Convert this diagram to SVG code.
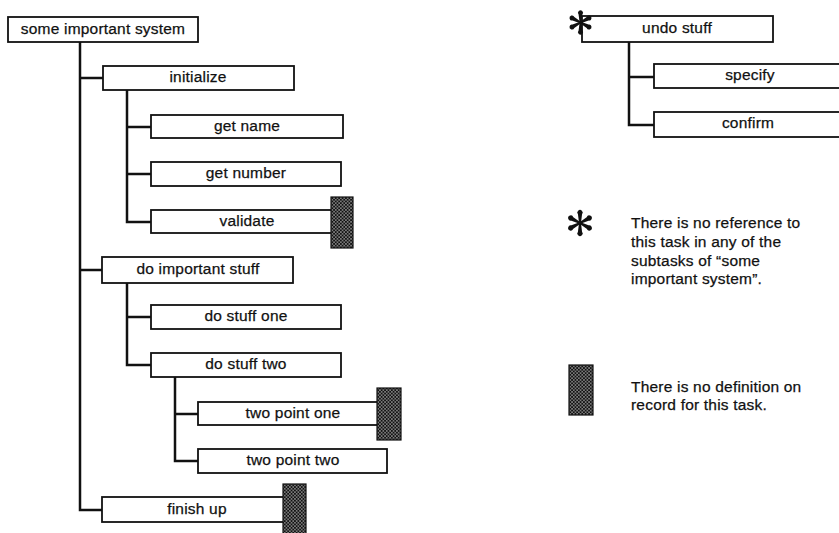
<svg xmlns="http://www.w3.org/2000/svg" width="839" height="533" viewBox="0 0 839 533">
  <defs>
    <style>
      .box { fill: #ffffff; stroke: #111111; stroke-width: 1.8; }
      .wire { fill: none; stroke: #111111; stroke-width: 2.5; stroke-linecap: square; }
      .lbl { font-family: "Liberation Sans", Arial, sans-serif; font-size: 15.5px; letter-spacing: 0.2px; fill: #111111; stroke: #111111; stroke-width: 0.25; text-anchor: middle; }
      .note { font-family: "Liberation Sans", Arial, sans-serif; font-size: 15.5px; letter-spacing: 0.2px; fill: #111111; stroke: #111111; stroke-width: 0.25; }
      .undef { fill: url(#halftone); stroke: #111111; stroke-width: 1.2; }
    </style>
    <!-- halftone screen used for tasks without a definition -->
    <pattern id="halftone" width="3.4" height="3.4" patternUnits="userSpaceOnUse">
      <rect width="3.4" height="3.4" fill="#111111"/>
      <circle cx="0.85" cy="0.85" r="0.7" fill="#ffffff"/>
      <circle cx="2.55" cy="2.55" r="0.7" fill="#ffffff"/>
    </pattern>
    <!-- one teardrop arm of the asterisk, pointing up -->
    <path id="arm" d="M -0.9 0 L -1.9 -8 A 2.5 2.5 0 1 1 1.9 -8 L 0.9 0 Z" fill="#111111"/>
    <g id="asterisk">
      <use href="#arm"/>
      <use href="#arm" transform="rotate(62)"/>
      <use href="#arm" transform="rotate(118)"/>
      <use href="#arm" transform="rotate(180)"/>
      <use href="#arm" transform="rotate(242)"/>
      <use href="#arm" transform="rotate(298)"/>
      <circle r="1.6" fill="#111111"/>
    </g>
  </defs>

  <rect width="839" height="533" fill="#ffffff"/>

  <!-- tree connectors -->
  <g id="connectors">
    <path class="wire" d="M80 42 V510 M80 78 H103 M80 270 H102 M80 510 H102"/>
    <path class="wire" d="M127 90 V222 M127 127 H151 M127 174 H151 M127 222 H151"/>
    <path class="wire" d="M127 283 V365 M127 317 H151 M127 365 H151"/>
    <path class="wire" d="M175 377 V461 M175 414 H198 M175 461 H198"/>
    <path class="wire" d="M629 42 V125 M629 77 H654 M629 125 H654"/>
  </g>

  <!-- left tree -->
  <g id="some-important-system">
    <rect class="box" x="8" y="17" width="190" height="25"/>
    <text class="lbl" x="103" y="34">some important system</text>
  </g>
  <g id="initialize">
    <rect class="box" x="103" y="66" width="191" height="24"/>
    <text class="lbl" x="198" y="82">initialize</text>
  </g>
  <g id="get-name">
    <rect class="box" x="151" y="115" width="192" height="23"/>
    <text class="lbl" x="247" y="131">get name</text>
  </g>
  <g id="get-number">
    <rect class="box" x="151" y="162" width="190" height="24"/>
    <text class="lbl" x="246" y="178">get number</text>
  </g>
  <g id="validate">
    <rect class="box" x="151" y="210" width="190" height="23"/>
    <text class="lbl" x="247" y="226">validate</text>
    <rect class="undef" x="331" y="197" width="22" height="51"/>
  </g>
  <g id="do-important-stuff">
    <rect class="box" x="102" y="257" width="191" height="26"/>
    <text class="lbl" x="198" y="274">do important stuff</text>
  </g>
  <g id="do-stuff-one">
    <rect class="box" x="151" y="305" width="190" height="24"/>
    <text class="lbl" x="246" y="321">do stuff one</text>
  </g>
  <g id="do-stuff-two">
    <rect class="box" x="151" y="353" width="190" height="24"/>
    <text class="lbl" x="246" y="369">do stuff two</text>
  </g>
  <g id="two-point-one">
    <rect class="box" x="198" y="402" width="189" height="23"/>
    <text class="lbl" x="293" y="418">two point one</text>
    <rect class="undef" x="377" y="388" width="24" height="52"/>
  </g>
  <g id="two-point-two">
    <rect class="box" x="198" y="449" width="189" height="24"/>
    <text class="lbl" x="293" y="465">two point two</text>
  </g>
  <g id="finish-up">
    <rect class="box" x="102" y="497" width="191" height="25"/>
    <text class="lbl" x="197" y="514">finish up</text>
    <rect class="undef" x="283" y="484" width="23" height="52"/>
  </g>

  <!-- right tree -->
  <g id="undo-stuff">
    <rect class="box" x="582" y="16" width="191" height="26"/>
    <text class="lbl" x="677" y="33">undo stuff</text>
    <use href="#asterisk" transform="translate(580.5 22.5)"/>
  </g>
  <g id="specify">
    <rect class="box" x="654" y="64" width="192" height="24"/>
    <text class="lbl" x="750" y="80">specify</text>
  </g>
  <g id="confirm">
    <rect class="box" x="654" y="112" width="192" height="25"/>
    <text class="lbl" x="748" y="128">confirm</text>
  </g>

  <!-- legend -->
  <g id="legend-unreferenced">
    <use href="#asterisk" transform="translate(580 223) scale(1.08)"/>
    <text class="note" x="631" y="228">There is no reference to</text>
    <text class="note" x="631" y="247">this task in any of the</text>
    <text class="note" x="631" y="266">subtasks of “some</text>
    <text class="note" x="631" y="284">important system”.</text>
  </g>
  <g id="legend-undefined">
    <rect class="undef" x="569" y="365" width="24" height="50"/>
    <text class="note" x="631" y="392">There is no definition on</text>
    <text class="note" x="631" y="410">record for this task.</text>
  </g>
</svg>
